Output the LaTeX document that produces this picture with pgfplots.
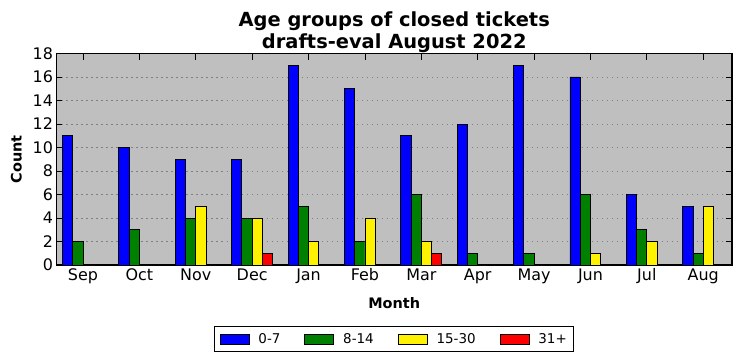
\documentclass[border=0pt]{standalone}
\usepackage{pgfplots}
\pgfplotsset{compat=1.18}
\usepackage{fontspec}
\setmainfont{DejaVu Sans}
\definecolor{bg}{RGB}{191,191,191}
\definecolor{mgreen}{RGB}{0,128,0}
\begin{document}
\begin{tikzpicture}
\begin{axis}[
 width=675.5bp, height=211.5bp, scale only axis,
 xmin=-0.47, xmax=11.51, ymin=0, ymax=18,
 ybar=0pt, bar width=0.182,
 xtick={0,...,11},
 xticklabels={Sep,Oct,Nov,Dec,Jan,Feb,Mar,Apr,May,Jun,Jul,Aug},
 ytick={0,2,...,18},
 tick align=inside, major tick length=6bp,
 tick style={black, line width=0.8bp},
 axis line style={black, line width=1.2bp},
 axis background/.style={fill=bg},
 ymajorgrids,
 grid style={gray, dash pattern=on 1.5bp off 3.5bp, line width=0.6bp},
 ticklabel style={font=\fontsize{16}{18}\selectfont},
 /pgf/number format/assume math mode=true,
 xlabel={Month}, ylabel={Count},
 label style={font=\fontsize{14.5}{17}\selectfont\bfseries},
 xlabel style={yshift=-7bp},
 ylabel style={yshift=4bp},
 title={Age groups of closed tickets\\drafts-eval August 2022},
 title style={font=\fontsize{19.5}{22}\selectfont\bfseries, align=center, yshift=-8.5bp},
 legend style={at={(0.5,-0.287)}, anchor=north, legend columns=4, draw=black, line width=1bp,
   font=\fontsize{13.5}{16}\selectfont, inner xsep=5bp, inner ysep=5bp,
   /tikz/every even column/.append style={column sep=22bp}},
 every axis plot/.append style={draw=black, line width=0.8bp,
   legend image code/.code={\draw[#1, line width=0.8bp] (0bp,-5bp) rectangle (29bp,5bp); \path (36bp,0bp);}},
]
\addplot[fill=blue] coordinates {(0,11) (1,10) (2,9) (3,9) (4,17) (5,15) (6,11) (7,12) (8,17) (9,16) (10,6) (11,5)};
\addplot[fill=mgreen] coordinates {(0,2) (1,3) (2,4) (3,4) (4,5) (5,2) (6,6) (7,1) (8,1) (9,6) (10,3) (11,1)};
\addplot[fill=yellow] coordinates {(0,0) (1,0) (2,5) (3,4) (4,2) (5,4) (6,2) (7,0) (8,0) (9,1) (10,2) (11,5)};
\addplot[fill=red] coordinates {(0,0) (1,0) (2,0) (3,1) (4,0) (5,0) (6,1) (7,0) (8,0) (9,0) (10,0) (11,0)};
\legend{0-7,8-14,15-30,31+}
\end{axis}
\path ([shift={(-56.5bp,-96bp)}]current axis.south west) rectangle ([shift={(9bp,53.5bp)}]current axis.north east);
\end{tikzpicture}
\end{document}
